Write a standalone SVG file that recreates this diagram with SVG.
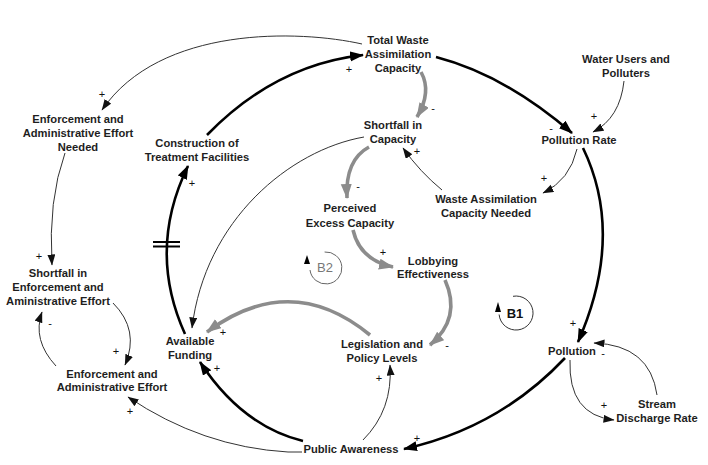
<svg xmlns="http://www.w3.org/2000/svg" width="708" height="465" viewBox="0 0 708 465">
<style>
.lbl{font-family:"Liberation Sans",Arial,sans-serif;font-size:11.2px;font-weight:bold;fill:#1e1e1e;text-anchor:middle}
.pol{font-family:"Liberation Sans",Arial,sans-serif;font-size:11px;fill:#111;text-anchor:middle}
.thick{fill:none;stroke:#000;stroke-width:2.6}
.gray{fill:none;stroke:#8c8c8c;stroke-width:3.6}
.thin{fill:none;stroke:#333;stroke-width:1}
</style>
<defs>
<marker id="mk-thick" markerUnits="userSpaceOnUse" markerWidth="15" markerHeight="11" refX="13" refY="5" orient="auto"><path d="M0,0 L14,5 L0,10 z" fill="#000"/></marker>
<marker id="mk-gray" markerUnits="userSpaceOnUse" markerWidth="16" markerHeight="12" refX="14" refY="5.5" orient="auto"><path d="M0,0 L15,5.5 L0,11 z" fill="#8c8c8c"/></marker>
<marker id="mk-thin" markerUnits="userSpaceOnUse" markerWidth="12" markerHeight="9" refX="10.5" refY="4" orient="auto"><path d="M0,0 L11,4 L0,8 z" fill="#111"/></marker>
</defs>
<rect width="708" height="465" fill="#fff"/>

<g id="connectors">
  <path class="thick" d="M436,57 Q505,75 572,133" marker-end="url(#mk-thick)"/>
  <path class="thick" d="M583,148 Q625,235 578,342" marker-end="url(#mk-thick)"/>
  <path class="thick" d="M565,358 Q499,428 404,449" marker-end="url(#mk-thick)"/>
  <path class="thick" d="M303,441 Q242,426 200,362" marker-end="url(#mk-thick)"/>
  <path class="thick" d="M185,334 Q147,250 188,166" marker-end="url(#mk-thick)"/>
  <path class="thick" d="M207,135 Q275,65 363,55" marker-end="url(#mk-thick)"/>
  <path fill="none" stroke="#000" stroke-width="2" d="M153,242 H180 M153,246.5 H180"/>
  <path class="gray" d="M421,72 Q432,92 417,117" marker-end="url(#mk-gray)"/>
  <path class="gray" d="M369,147 Q345,160 347,198" marker-end="url(#mk-gray)"/>
  <path class="gray" d="M353,230 Q360,260 393,267" marker-end="url(#mk-gray)"/>
  <path class="gray" d="M445,280 Q462,318 430,345" marker-end="url(#mk-gray)"/>
  <path class="gray" d="M370,335 Q291,270 207,332" marker-end="url(#mk-gray)"/>
  <path class="thin" d="M362,44 C300,30 160,25 102,110" marker-end="url(#mk-thin)"/>
  <path class="thin" d="M65,153 Q48,200 52,265" marker-end="url(#mk-thin)"/>
  <path class="thin" d="M113,303 Q140,330 125,365" marker-end="url(#mk-thin)"/>
  <path class="thin" d="M56,366 Q32,340 42,312" marker-end="url(#mk-thin)"/>
  <path class="thin" d="M302,452 L288,452 Q202,447 128,397" marker-end="url(#mk-thin)"/>
  <path class="thin" d="M363,440 Q393,410 390,365" marker-end="url(#mk-thin)"/>
  <path class="thin" d="M364,137 C290,150 205,220 192,328" marker-end="url(#mk-thin)"/>
  <path class="thin" d="M442,190 Q420,172 403,148" marker-end="url(#mk-thin)"/>
  <path class="thin" d="M577,149 Q570,180 543,193" marker-end="url(#mk-thin)"/>
  <path class="thin" d="M624,81 Q620,118 593,132" marker-end="url(#mk-thin)"/>
  <path class="thin" d="M570,360 Q568,415 614,420" marker-end="url(#mk-thin)"/>
  <path class="thin" d="M657,395 Q650,345 594,343" marker-end="url(#mk-thin)"/>
</g>

<g id="polarities">
  <text class="pol" x="551" y="132">-</text>
  <text class="pol" x="573" y="327">+</text>
  <text class="pol" x="417" y="442">+</text>
  <text class="pol" x="217" y="372">+</text>
  <text class="pol" x="192" y="187">+</text>
  <text class="pol" x="349" y="73">+</text>
  <text class="pol" x="433" y="112">-</text>
  <text class="pol" x="358" y="190">-</text>
  <text class="pol" x="383" y="256">+</text>
  <text class="pol" x="447" y="349">-</text>
  <text class="pol" x="223" y="336">+</text>
  <text class="pol" x="102" y="98">+</text>
  <text class="pol" x="39" y="260">+</text>
  <text class="pol" x="116" y="355">+</text>
  <text class="pol" x="50" y="327">-</text>
  <text class="pol" x="130" y="415">+</text>
  <text class="pol" x="379" y="382">+</text>
  <text class="pol" x="417" y="155">+</text>
  <text class="pol" x="544" y="182">+</text>
  <text class="pol" x="594" y="120">+</text>
  <text class="pol" x="604" y="409">+</text>
  <text class="pol" x="603" y="357">-</text>
</g>

<g id="loop-B1">
  <path d="M513,296.3 A17,17 0 1 1 499.1,314.5" fill="none" stroke="#333" stroke-width="1"/>
  <polygon points="498,302 495,312 501,312" fill="#000"/>
  <text x="515" y="318" style="font-family:'Liberation Sans',Arial,sans-serif;font-size:13px;font-weight:bold;fill:#111;text-anchor:middle">B1</text>
</g>
<g id="loop-B2">
  <path d="M324.6,252 A16,16 0 1 1 310,270" fill="none" stroke="#666" stroke-width="1"/>
  <polygon points="307,255 304,264 310,264" fill="#000"/>
  <text x="325" y="272" style="font-family:'Liberation Sans',Arial,sans-serif;font-size:13px;fill:#777;text-anchor:middle">B2</text>
</g>

<g id="n-twac"><text class="lbl" x="398" y="44">Total Waste</text><text class="lbl" x="398" y="58">Assimilation</text><text class="lbl" x="398" y="72">Capacity</text></g>
<g id="n-wu"><text class="lbl" x="626" y="63">Water Users and</text><text class="lbl" x="626" y="77">Polluters</text></g>
<g id="n-sic"><text class="lbl" x="393" y="129">Shortfall in</text><text class="lbl" x="393" y="143">Capacity</text></g>
<g id="n-pr"><text class="lbl" x="579" y="144">Pollution Rate</text></g>
<g id="n-wacn"><text class="lbl" x="486" y="203">Waste Assimilation</text><text class="lbl" x="486" y="217">Capacity Needed</text></g>
<g id="n-ean"><text class="lbl" x="78" y="123">Enforcement and</text><text class="lbl" x="78" y="137">Administrative Effort</text><text class="lbl" x="78" y="151">Needed</text></g>
<g id="n-ctf"><text class="lbl" x="197" y="147">Construction of</text><text class="lbl" x="197" y="161">Treatment Facilities</text></g>
<g id="n-pec"><text class="lbl" x="350" y="212">Perceived</text><text class="lbl" x="350" y="227">Excess Capacity</text></g>
<g id="n-le"><text class="lbl" x="433" y="265">Lobbying</text><text class="lbl" x="433" y="278">Effectiveness</text></g>
<g id="n-seae"><text class="lbl" x="58" y="277">Shortfall in</text><text class="lbl" x="58" y="291">Enforcement and</text><text class="lbl" x="58" y="305">Aministrative Effort</text></g>
<g id="n-eae"><text class="lbl" x="112" y="378">Enforcement and</text><text class="lbl" x="112" y="391">Administrative Effort</text></g>
<g id="n-af"><text class="lbl" x="190" y="345">Available</text><text class="lbl" x="190" y="359">Funding</text></g>
<g id="n-lpl"><text class="lbl" x="382" y="348">Legislation and</text><text class="lbl" x="382" y="362">Policy Levels</text></g>
<g id="n-pol"><text class="lbl" x="572" y="355">Pollution</text></g>
<g id="n-sdr"><text class="lbl" x="657" y="408">Stream</text><text class="lbl" x="657" y="422">Discharge Rate</text></g>
<g id="n-pa"><text class="lbl" x="351" y="453">Public Awareness</text></g>
</svg>
